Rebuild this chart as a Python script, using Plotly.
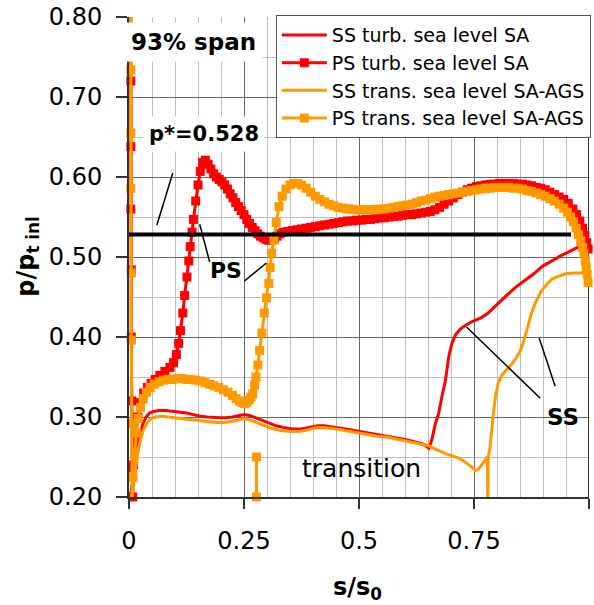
import plotly.graph_objects as go

# ---------------- data ----------------
ss_turb_x = [0.003, 0.008, 0.013, 0.018, 0.024, 0.030, 0.037, 0.045, 0.053, 0.065, 0.080, 0.095, 0.110, 0.125,
             0.140, 0.155, 0.170, 0.185, 0.197, 0.210, 0.225, 0.240, 0.251, 0.262, 0.275, 0.290, 0.305, 0.320,
             0.335, 0.355, 0.375, 0.395, 0.410, 0.425, 0.440, 0.460, 0.480, 0.500, 0.520, 0.540, 0.560, 0.580,
             0.600, 0.620, 0.640, 0.652, 0.659, 0.666, 0.673, 0.680, 0.688, 0.695, 0.702, 0.710, 0.720, 0.733,
             0.745, 0.765, 0.781, 0.795, 0.810, 0.820, 0.840, 0.861, 0.880, 0.898, 0.918, 0.940, 0.955, 0.970,
             0.985, 0.995]
ss_turb_y = [0.200, 0.222, 0.243, 0.262, 0.278, 0.291, 0.300, 0.305, 0.307, 0.308, 0.308, 0.307, 0.306, 0.305,
             0.303, 0.301, 0.300, 0.299, 0.299, 0.299, 0.300, 0.302, 0.303, 0.302, 0.299, 0.295, 0.292, 0.289,
             0.287, 0.285, 0.285, 0.287, 0.289, 0.289, 0.288, 0.286, 0.284, 0.282, 0.280, 0.278, 0.276, 0.274,
             0.272, 0.269, 0.266, 0.261, 0.273, 0.292, 0.304, 0.325, 0.346, 0.375, 0.392, 0.403, 0.410, 0.415,
             0.419, 0.424, 0.430, 0.438, 0.446, 0.452, 0.462, 0.471, 0.479, 0.488, 0.495, 0.502, 0.506, 0.511,
             0.515, 0.515]

ps_turb_x = [0.004, 0.004, 0.004, 0.004, 0.005, 0.005, 0.006, 0.007, 0.008, 0.010, 0.014, 0.019, 0.025, 0.032,
             0.040, 0.048, 0.057, 0.067, 0.078, 0.089, 0.097, 0.103, 0.108, 0.112, 0.117, 0.121, 0.126, 0.130,
             0.133, 0.137, 0.140, 0.145, 0.150, 0.155, 0.160, 0.166, 0.172, 0.178, 0.184, 0.190, 0.196, 0.202,
             0.208, 0.214, 0.220, 0.226, 0.232, 0.238, 0.244, 0.250, 0.256, 0.262, 0.268, 0.274, 0.280, 0.286,
             0.292, 0.298, 0.304, 0.310, 0.316, 0.322, 0.328, 0.335, 0.345, 0.355, 0.365, 0.375, 0.385, 0.395,
             0.405, 0.415, 0.425, 0.435, 0.445, 0.455, 0.465, 0.475, 0.485, 0.495, 0.505, 0.515, 0.525, 0.535,
             0.545, 0.555, 0.565, 0.575, 0.585, 0.595, 0.605, 0.615, 0.625, 0.635, 0.645, 0.655, 0.665, 0.675,
             0.685, 0.695, 0.705, 0.715, 0.725, 0.735, 0.745, 0.755, 0.765, 0.775, 0.785, 0.795, 0.805, 0.815,
             0.825, 0.835, 0.845, 0.855, 0.865, 0.875, 0.885, 0.895, 0.905, 0.915, 0.925, 0.935, 0.945, 0.955,
             0.965, 0.973, 0.980, 0.986, 0.991, 0.995, 0.998]
ps_turb_y = [0.810, 0.720, 0.638, 0.560, 0.484, 0.400, 0.320, 0.237, 0.200, 0.240, 0.275, 0.300, 0.318, 0.330,
             0.337, 0.342, 0.347, 0.352, 0.357, 0.362, 0.368, 0.378, 0.392, 0.408, 0.430, 0.452, 0.475, 0.495,
             0.513, 0.531, 0.547, 0.570, 0.590, 0.607, 0.618, 0.621, 0.616, 0.610, 0.604, 0.600, 0.597, 0.594,
             0.590, 0.585, 0.579, 0.574, 0.568, 0.563, 0.558, 0.553, 0.547, 0.542, 0.537, 0.533, 0.529, 0.526,
             0.524, 0.522, 0.521, 0.521, 0.523, 0.526, 0.529, 0.531, 0.532, 0.533, 0.534, 0.535, 0.536, 0.537,
             0.538, 0.539, 0.540, 0.541, 0.542, 0.543, 0.544, 0.545, 0.545, 0.546, 0.546, 0.547, 0.547, 0.548,
             0.549, 0.549, 0.550, 0.551, 0.551, 0.552, 0.553, 0.553, 0.554, 0.555, 0.556, 0.557, 0.559, 0.562,
             0.566, 0.570, 0.574, 0.578, 0.581, 0.584, 0.586, 0.588, 0.589, 0.590, 0.591, 0.591, 0.592, 0.592,
             0.592, 0.592, 0.591, 0.591, 0.590, 0.589, 0.587, 0.586, 0.584, 0.581, 0.578, 0.575, 0.572, 0.567,
             0.560, 0.553, 0.545, 0.536, 0.527, 0.518, 0.510]

ss_trans_x = [0.004, 0.009, 0.014, 0.020, 0.026, 0.032, 0.040, 0.048, 0.058, 0.070, 0.085, 0.100, 0.115, 0.130,
              0.145, 0.160, 0.175, 0.190, 0.205, 0.220, 0.235, 0.251, 0.265, 0.280, 0.295, 0.310, 0.330, 0.350,
              0.370, 0.390, 0.406, 0.420, 0.440, 0.460, 0.480, 0.500, 0.520, 0.540, 0.560, 0.587, 0.610, 0.630,
              0.651, 0.670, 0.690, 0.716, 0.735, 0.748, 0.753, 0.758, 0.763, 0.770, 0.776, 0.779, 0.780, 0.781,
              0.785, 0.788, 0.792, 0.797, 0.803, 0.810, 0.820, 0.832, 0.842, 0.850, 0.856, 0.861, 0.868, 0.875,
              0.886, 0.897, 0.905, 0.918, 0.934, 0.950, 0.965, 0.978, 0.988, 0.993]
ss_trans_y = [0.195, 0.215, 0.237, 0.258, 0.274, 0.285, 0.293, 0.298, 0.300, 0.301, 0.300, 0.299, 0.298, 0.297,
              0.296, 0.295, 0.294, 0.293, 0.293, 0.294, 0.296, 0.298, 0.296, 0.292, 0.289, 0.286, 0.283, 0.282,
              0.282, 0.284, 0.2865, 0.287, 0.286, 0.284, 0.282, 0.280, 0.278, 0.276, 0.275, 0.272, 0.269, 0.267,
              0.264, 0.259, 0.254, 0.249, 0.242, 0.236, 0.233, 0.234, 0.237, 0.243, 0.248, 0.250, 0.190, 0.250,
              0.262, 0.284, 0.304, 0.327, 0.343, 0.352, 0.358, 0.366, 0.374, 0.382, 0.391, 0.400, 0.415, 0.430,
              0.446, 0.458, 0.463, 0.472, 0.476, 0.479, 0.480, 0.480, 0.480, 0.476]

ps_trans_x = [0.004, 0.004, 0.004, 0.004, 0.005, 0.005, 0.006, 0.006, 0.007, 0.009, 0.012, 0.016, 0.020, 0.025,
              0.031, 0.038, 0.046, 0.055, 0.065, 0.075, 0.085, 0.095, 0.105, 0.115, 0.125, 0.135, 0.145, 0.155,
              0.165, 0.175, 0.185, 0.195, 0.205, 0.215, 0.225, 0.233, 0.240, 0.246, 0.251, 0.256, 0.261, 0.265,
              0.269, 0.273, 0.276, 0.280, 0.284, 0.289, 0.294, 0.299, 0.304, 0.307, 0.310, 0.315, 0.320, 0.326,
              0.333, 0.341, 0.350, 0.358, 0.366, 0.375, 0.385, 0.395, 0.405, 0.415, 0.425, 0.435, 0.445, 0.455,
              0.465, 0.475, 0.485, 0.495, 0.505, 0.515, 0.525, 0.535, 0.545, 0.555, 0.565, 0.575, 0.585, 0.595,
              0.605, 0.615, 0.625, 0.635, 0.645, 0.655, 0.665, 0.675, 0.685, 0.695, 0.705, 0.715, 0.725, 0.735,
              0.745, 0.755, 0.765, 0.775, 0.785, 0.795, 0.805, 0.815, 0.825, 0.835, 0.845, 0.855, 0.865, 0.875,
              0.885, 0.895, 0.905, 0.915, 0.925, 0.935, 0.945, 0.953, 0.960, 0.966, 0.972, 0.977, 0.982, 0.986,
              0.989, 0.992, 0.994, 0.996, 0.998,
              None, 0.277, 0.277]
ps_trans_y = [0.812, 0.734, 0.655, 0.586, 0.480, 0.396, 0.292, 0.225, 0.192, 0.225, 0.255, 0.280, 0.298, 0.312,
              0.323, 0.331, 0.337, 0.341, 0.344, 0.346, 0.347, 0.347, 0.348, 0.348, 0.347, 0.347, 0.346, 0.345,
              0.343, 0.341, 0.339, 0.337, 0.334, 0.331, 0.327, 0.323, 0.320, 0.318, 0.317, 0.318, 0.321, 0.325,
              0.329, 0.340, 0.350, 0.365, 0.383, 0.405, 0.430, 0.449, 0.467, 0.487, 0.505, 0.521, 0.543, 0.563,
              0.576, 0.585, 0.590, 0.592, 0.592, 0.590, 0.586, 0.581, 0.576, 0.572, 0.569, 0.566, 0.564, 0.562,
              0.561, 0.560, 0.560, 0.559, 0.559, 0.559, 0.559, 0.559, 0.560, 0.560, 0.561, 0.562, 0.563, 0.564,
              0.565, 0.566, 0.568, 0.570, 0.571, 0.573, 0.575, 0.576, 0.577, 0.578, 0.579, 0.580, 0.581, 0.582,
              0.583, 0.584, 0.585, 0.586, 0.586, 0.587, 0.587, 0.587, 0.587, 0.586, 0.586, 0.585, 0.583, 0.582,
              0.580, 0.578, 0.576, 0.573, 0.570, 0.566, 0.561, 0.556, 0.550, 0.544, 0.536, 0.528, 0.520, 0.512,
              0.504, 0.495, 0.487, 0.478, 0.468,
              None, 0.250, 0.200]

p_star = 0.528
p_star_x = [0.0, 0.961]

x_tickvals = [0, 0.25, 0.5, 0.75, 1]
x_ticktext = ["0", "0.25", "0.5", "0.75", "1"]
y_tickvals = [0.2, 0.3, 0.4, 0.5, 0.6, 0.7, 0.8]
y_ticktext = ["0.20", "0.30", "0.40", "0.50", "0.60", "0.70", "0.80"]
x_minor = [0.05, 0.10, 0.15, 0.20, 0.30, 0.35, 0.40, 0.45, 0.55, 0.60, 0.65, 0.70, 0.80, 0.85, 0.90, 0.95]
y_minor = [0.25, 0.35, 0.45, 0.55, 0.65, 0.75]

X_RANGE = [0.0, 1.0]
Y_RANGE = [0.2, 0.8]

series_names = ["SS turb. sea level SA", "PS turb. sea level SA",
                "SS trans. sea level SA-AGS", "PS trans. sea level SA-AGS"]

RED = "#ff0000"
ORANGE = "#ff9900"
FONT = "DejaVu Sans"
MAJOR = "#666666"
MINOR = "#bdbdbd"
AXIS = "#333333"

# leader lines for the labels (x0, y0, x1, y1) in data units
leaders = [
    (0.0606, 0.540, 0.0952, 0.605),
    (0.1537, 0.541, 0.1753, 0.494),
    (0.2510, 0.470, 0.2987, 0.4925),
    (0.7338, 0.4124, 0.8940, 0.3234),
    (0.8918, 0.3985, 0.9264, 0.3384),
]

fig = go.Figure()

fig.add_trace(go.Scatter(x=ss_turb_x, y=ss_turb_y, mode="lines", name=series_names[0],
                         line=dict(color=RED, width=3)))
fig.add_trace(go.Scatter(x=ps_turb_x, y=ps_turb_y, mode="lines+markers", name=series_names[1],
                         line=dict(color=RED, width=3), cliponaxis=False,
                         marker=dict(symbol="square", size=9, color=RED, line=dict(width=0))))
fig.add_trace(go.Scatter(x=ss_trans_x, y=ss_trans_y, mode="lines", name=series_names[2],
                         line=dict(color=ORANGE, width=3)))
fig.add_trace(go.Scatter(x=ps_trans_x, y=ps_trans_y, mode="lines+markers", name=series_names[3],
                         line=dict(color=ORANGE, width=3), cliponaxis=False,
                         marker=dict(symbol="square", size=9, color=ORANGE, line=dict(width=0))))
fig.add_trace(go.Scatter(x=p_star_x, y=[p_star, p_star], mode="lines", showlegend=False,
                         line=dict(color="black", width=4)))

shapes = []
for (a, b, c, d) in leaders:
    shapes.append(dict(type="line", xref="x", yref="y", x0=a, y0=b, x1=c, y1=d,
                       line=dict(color="black", width=1.5)))
# right frame
shapes.append(dict(type="line", xref="x", yref="y", x0=1, x1=1, y0=0.2, y1=0.8,
                   line=dict(color=AXIS, width=2), layer="between"))

annotations = [
    dict(text="<b>93% span</b>", x=0.1407, y=0.7693, xref="x", yref="y", showarrow=False,
         font=dict(family=FONT, size=23, color="black"), bgcolor="white", borderpad=6),
    dict(text="<b>p*=0.528</b>", x=0.162, y=0.654, xref="x", yref="y", showarrow=False,
         font=dict(family=FONT, size=21, color="black"), bgcolor="white", borderpad=5),
    dict(text="<b>PS</b>", x=0.21, y=0.4837, xref="x", yref="y", showarrow=False,
         font=dict(family=FONT, size=22, color="black")),
    dict(text="<b>SS</b>", x=0.9437, y=0.2996, xref="x", yref="y", showarrow=False,
         font=dict(family=FONT, size=23, color="black")),
    dict(text="transition", x=0.5065, y=0.2357, xref="x", yref="y", showarrow=False,
         font=dict(family=FONT, size=25, color="black")),
    dict(text="<b>s/s<sub>0</sub></b>", x=0.496, y=-0.19, xref="x", yref="paper", showarrow=False,
         yanchor="middle", font=dict(family=FONT, size=24, color="black")),
    dict(text="<b>p/p<sub>t inl</sub></b>", x=-0.2208, y=0.501, xref="paper", yref="y", showarrow=False,
         textangle=-90, xanchor="center", yanchor="middle",
         font=dict(family=FONT, size=24, color="black")),
]

fig.update_layout(
    width=594, height=605,
    margin=dict(l=129, r=3, t=17, b=108, pad=0),
    paper_bgcolor="white", plot_bgcolor="white",
    font=dict(family=FONT, size=24, color="black"),
    showlegend=True,
    legend=dict(x=1.004, xanchor="right", y=1.004, yanchor="top",
                bgcolor="white", bordercolor="#555555", borderwidth=1,
                font=dict(family=FONT, size=19, color="black"),
                itemwidth=45, tracegroupgap=0),
    shapes=shapes,
    annotations=annotations,
)

fig.update_xaxes(range=X_RANGE, tickvals=x_tickvals, ticktext=x_ticktext,
                 showgrid=True, gridcolor=MAJOR, gridwidth=1,
                 minor=dict(tickvals=x_minor, showgrid=True, gridcolor=MINOR, gridwidth=1, ticks=""),
                 ticks="outside", ticklen=10, tickcolor=AXIS, tickwidth=1.5,
                 showline=True, linecolor=AXIS, linewidth=2, mirror=False,
                 zeroline=False, ticklabelstandoff=11,
                 tickfont=dict(family=FONT, size=24, color="black"))
fig.update_yaxes(range=Y_RANGE, tickvals=y_tickvals, ticktext=y_ticktext,
                 showgrid=True, gridcolor=MAJOR, gridwidth=1,
                 minor=dict(tickvals=y_minor, showgrid=True, gridcolor=MINOR, gridwidth=1, ticks=""),
                 ticks="outside", ticklen=11, tickcolor=AXIS, tickwidth=1.5,
                 showline=True, linecolor=AXIS, linewidth=2, mirror=False,
                 zeroline=False, ticklabelstandoff=9,
                 tickfont=dict(family=FONT, size=24, color="black"))

fig.write_html("out.html")
